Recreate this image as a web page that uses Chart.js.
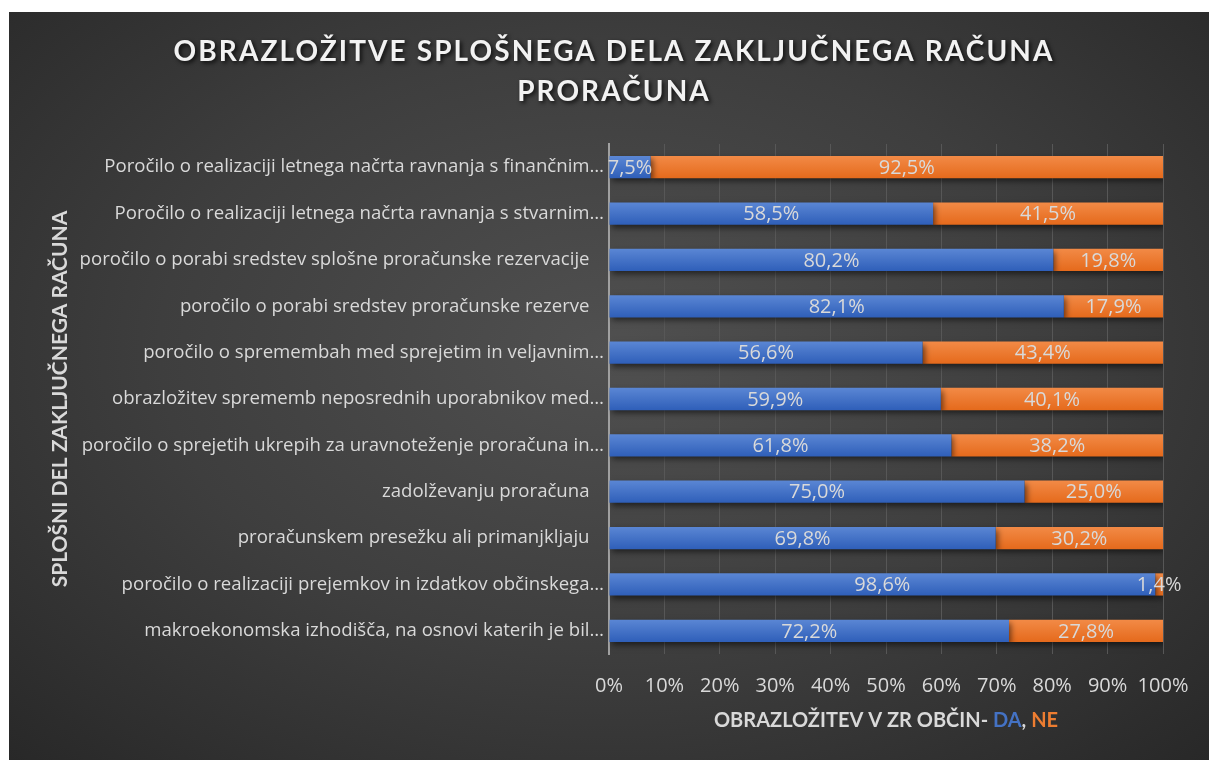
<!DOCTYPE html>
<html>
<head>
<meta charset="utf-8">
<script src="https://cdn.jsdelivr.net/npm/chart.js@4"></script>
<style>
  body { margin: 0; background: #fff; }
  #panel {
    position: absolute; left: 9px; top: 12px; width: 1200px; height: 748px;
    background: radial-gradient(ellipse 75% 80% at 50% 45%, #505050 0%, #3e3e3e 50%, #262626 100%);
  }
  canvas { display: block; }
</style>
</head>
<body>
<div id="panel"><canvas id="chart" width="1200" height="748"></canvas></div>
<script>
const titleLines = ['OBRAZLOŽITVE SPLOŠNEGA DELA ZAKLJUČNEGA RAČUNA', 'PRORAČUNA'];
const yTitle = 'SPLOŠNI DEL ZAKLJUČNEGA RAČUNA';
const xTitleParts = [
  { text: 'OBRAZLOŽITEV V ZR OBČIN- ', color: '#d9d9d9' },
  { text: 'DA', color: '#4472c4' },
  { text: ', ', color: '#d9d9d9' },
  { text: 'NE', color: '#ed7d31' }
];

// labels as Excel shows them (truncated, some with trailing spaces)
const categories = [
  'Poročilo o realizaciji letnega načrta ravnanja s finančnim…',
  'Poročilo o realizaciji letnega načrta ravnanja s stvarnim…',
  'poročilo o porabi sredstev splošne proračunske rezervacije   ',
  'poročilo o porabi sredstev proračunske rezerve   ',
  'poročilo o spremembah med sprejetim in veljavnim…',
  'obrazložitev sprememb neposrednih uporabnikov med…',
  'poročilo o sprejetih ukrepih za uravnoteženje proračuna in…',
  'zadolževanju proračuna   ',
  'proračunskem presežku ali primanjkljaju   ',
  'poročilo o realizaciji prejemkov in izdatkov občinskega…',
  'makroekonomska izhodišča, na osnovi katerih je bil…'
];
const daValues = [7.5, 58.5, 80.2, 82.1, 56.6, 59.9, 61.8, 75.0, 69.8, 98.6, 72.2];
const neValues = [92.5, 41.5, 19.8, 17.9, 43.4, 40.1, 38.2, 25.0, 30.2, 1.4, 27.8];
const xTicks = [0, 10, 20, 30, 40, 50, 60, 70, 80, 90, 100];

const labelColor = '#d9d9d9';
const textFont = '"Open Sans", sans-serif';
const titleFont = 'Lato, sans-serif';

function barGradient(context, top, bottom) {
  const chart = context.chart;
  const y = chart.scales && chart.scales.y;
  if (!y || !chart.chartArea) return bottom;
  const cy = y.getPixelForValue(context.dataIndex);
  const g = chart.ctx.createLinearGradient(0, cy - 11, 0, cy + 11);
  g.addColorStop(0, top);
  g.addColorStop(1, bottom);
  return g;
}

const barShadow = {
  id: 'barShadow',
  beforeDatasetsDraw(chart) {
    const ctx = chart.ctx;
    ctx.save();
    ctx.shadowColor = 'rgba(0,0,0,0.55)';
    ctx.shadowBlur = 6;
    ctx.shadowOffsetX = 2;
    ctx.shadowOffsetY = 3;
  },
  afterDatasetsDraw(chart) {
    chart.ctx.restore();
  }
};

const valueLabels = {
  id: 'valueLabels',
  afterDatasetsDraw(chart) {
    const ctx = chart.ctx;
    ctx.save();
    ctx.font = '20px ' + textFont;
    ctx.fillStyle = labelColor;
    ctx.textAlign = 'center';
    ctx.textBaseline = 'middle';
    chart.data.datasets.forEach((ds, i) => {
      chart.getDatasetMeta(i).data.forEach((bar, j) => {
        const p = bar.getProps(['x', 'y', 'base'], true);
        const cx = (p.x + p.base) / 2;
        ctx.fillText(ds.data[j].toFixed(1).replace('.', ',') + '%', cx, p.y + 1);
      });
    });
    ctx.restore();
  }
};

const titles = {
  id: 'titles',
  afterDraw(chart) {
    const ctx = chart.ctx;
    const area = chart.chartArea;
    ctx.save();
    // main title
    ctx.font = 'bold 28px ' + titleFont;
    ctx.letterSpacing = '2.1px';
    ctx.textAlign = 'center';
    ctx.textBaseline = 'middle';
    ctx.shadowColor = 'rgba(0,0,0,0.8)';
    ctx.shadowBlur = 4;
    ctx.shadowOffsetX = 2;
    ctx.shadowOffsetY = 2;
    ctx.fillStyle = '#f2f2f2';
    titleLines.forEach((t, i) => ctx.fillText(t, 605, 40 + i * 40));
    ctx.restore();

    // x axis title, multi-coloured
    ctx.save();
    ctx.font = 'bold 20px ' + titleFont;
    ctx.textBaseline = 'middle';
    ctx.textAlign = 'left';
    const total = xTitleParts.reduce((s, p) => s + ctx.measureText(p.text).width, 0);
    let x = (area.left + area.right) / 2 - total / 2;
    xTitleParts.forEach(p => {
      ctx.fillStyle = p.color;
      ctx.fillText(p.text, x, 709);
      x += ctx.measureText(p.text).width;
    });
    ctx.restore();

    // y axis title
    ctx.save();
    ctx.font = 'bold 21px ' + titleFont;
    ctx.fillStyle = labelColor;
    ctx.textAlign = 'center';
    ctx.textBaseline = 'middle';
    ctx.translate(51, (area.top + area.bottom) / 2);
    ctx.rotate(-Math.PI / 2);
    ctx.fillText(yTitle, 0, 0);
    ctx.restore();
  }
};

new Chart(document.getElementById('chart'), {
  type: 'bar',
  data: {
    labels: categories,
    datasets: [
      {
        label: 'DA',
        data: daValues,
        backgroundColor: c => barGradient(c, '#5a86d4', '#2f5fb9'),
        borderWidth: 0,
        barPercentage: 0.48,
        categoryPercentage: 1
      },
      {
        label: 'NE',
        data: neValues,
        backgroundColor: c => barGradient(c, '#f28a46', '#e56a1c'),
        borderWidth: 0,
        barPercentage: 0.48,
        categoryPercentage: 1
      }
    ]
  },
  options: {
    indexAxis: 'y',
    responsive: false,
    animation: false,
    layout: { padding: { top: 132, right: 46, bottom: 0, left: 0 } },
    plugins: {
      legend: { display: false },
      tooltip: { enabled: false }
    },
    scales: {
      x: {
        stacked: true,
        min: 0,
        max: 100,
        afterBuildTicks: scale => { scale.ticks = xTicks.map(v => ({ value: v })); },
        ticks: {
          color: labelColor,
          font: { family: textFont, size: 20 },
          padding: 20,
          maxRotation: 0,
          minRotation: 0,
          autoSkip: false,
          callback: v => v + '%'
        },
        grid: { color: '#575757', lineWidth: 1, drawTicks: false },
        border: { display: false },
        afterFit: scale => { scale.height = 106; }
      },
      y: {
        stacked: true,
        ticks: {
          color: labelColor,
          font: { family: textFont, size: 18.6 },
          padding: 5,
          autoSkip: false
        },
        grid: { display: false, drawTicks: false },
        border: { color: '#a0a0a0', width: 2 },
        afterFit: scale => { scale.width = 600; }
      }
    }
  },
  plugins: [barShadow, valueLabels, titles]
});
</script>
</body>
</html>
